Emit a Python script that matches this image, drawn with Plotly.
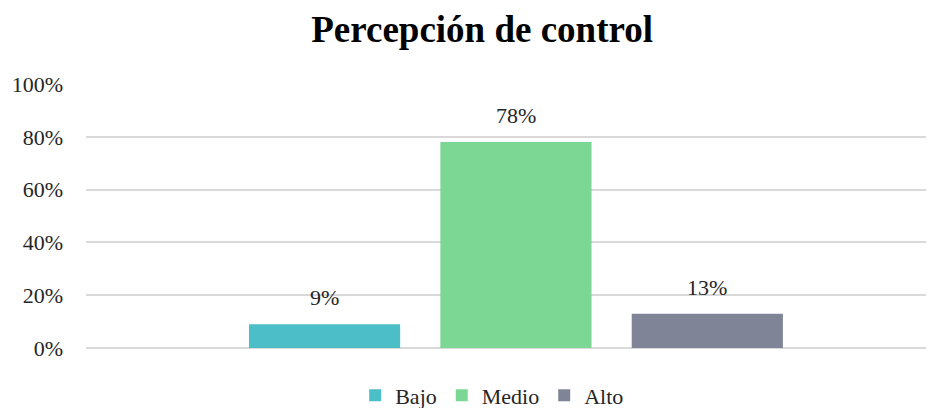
import plotly.graph_objects as go

# Data
categories = ["Bajo", "Medio", "Alto"]
values = [0.09, 0.78, 0.13]
colors = ["#4BBEC7", "#7DD794", "#7F8596"]
y_ticks = [0, 0.2, 0.4, 0.6, 0.8, 1.0]
y_tick_labels = ["0%", "20%", "40%", "60%", "80%", "100%"]

font_family = "Liberation Serif"

# the page body has an 8px margin, so the figure is a bit smaller than the window
W, H = 926, 400
ml, mr, mt, mb = 78, 0, 76, 60
bargap, bargroupgap = 0.323, 0.21
plot_w = W - ml - mr
slot_px = plot_w * (1 - bargap) / len(categories)

fig = go.Figure()
for name, val, col in zip(categories, values, colors):
    fig.add_trace(go.Bar(
        x=["Percepción de control"], y=[val], name=name,
        marker=dict(color=col, line=dict(width=0)),
    ))

# value labels above the bars
for i, val in enumerate(values):
    fig.add_annotation(
        x="Percepción de control", y=val, xref="x", yref="y",
        text=f"{val:.0%}", showarrow=False, yanchor="bottom",
        xshift=(i - 1) * slot_px, yshift=12,
        font=dict(family=font_family, size=22, color="#262626"),
    )

fig.update_layout(
    width=W, height=H,
    margin=dict(l=ml, r=mr, t=mt, b=mb, autoexpand=False),
    paper_bgcolor="white", plot_bgcolor="white",
    font=dict(family=font_family, size=22, color="#262626"),
    title=dict(text="<b>Percepción de control</b>", x=0.512, xref="container",
               xanchor="center", y=0.947, yanchor="middle",
               font=dict(family=font_family, size=37, color="black")),
    barmode="group", bargap=bargap, bargroupgap=bargroupgap,
    showlegend=True,
    legend=dict(orientation="h", x=0.479, xanchor="center", y=-0.1, yanchor="top",
                font=dict(family=font_family, size=22, color="#262626"),
                itemwidth=30, tracegroupgap=0),
)
fig.update_xaxes(showticklabels=False, showgrid=False, showline=False, zeroline=False,
                 range=[-0.507, 0.493])
fig.update_yaxes(range=[0, 1.0], tickvals=y_ticks, ticktext=y_tick_labels,
                 showgrid=True, gridcolor="#D9D9D9", gridwidth=1.5,
                 zeroline=True, zerolinecolor="#D9D9D9", zerolinewidth=1.5,
                 showline=False, ticks="", ticklabelstandoff=22,
                 tickfont=dict(family=font_family, size=22, color="#262626"))

fig.write_html("out.html")
